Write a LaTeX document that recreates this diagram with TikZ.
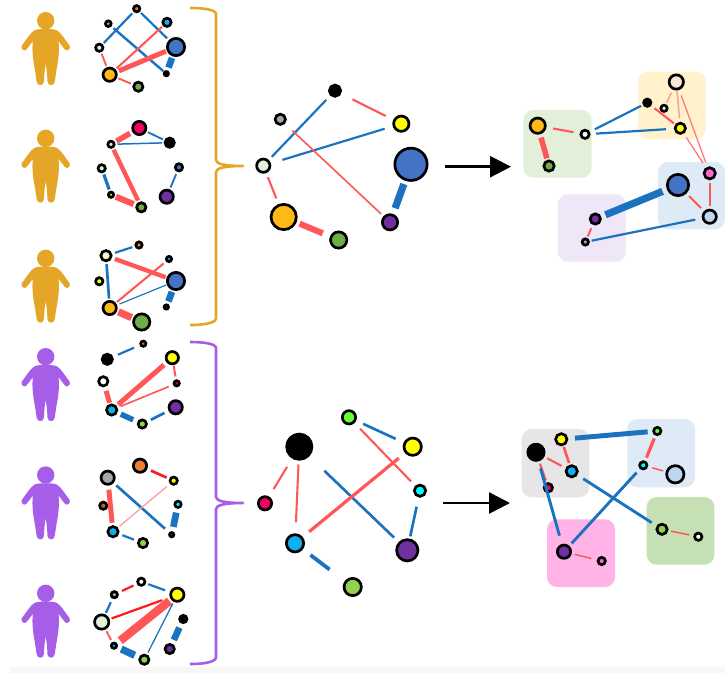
\documentclass[tikz,border=0pt]{standalone}
\usetikzlibrary{arrows.meta}
\definecolor{rd}{HTML}{FF5757}
\definecolor{prd}{HTML}{FF1A1A}
\definecolor{lrd}{HTML}{FF9C9C}
\definecolor{bl}{HTML}{1B72C0}
\definecolor{cBlue}{HTML}{4472C4}
\definecolor{cGold}{HTML}{FFB914}
\definecolor{cGreen}{HTML}{70AD47}
\definecolor{cLime}{HTML}{92D050}
\definecolor{cMint}{HTML}{E2F0D9}
\definecolor{cPurple}{HTML}{7030A0}
\definecolor{cSky}{HTML}{0FB0F0}
\definecolor{cRose}{HTML}{F0005F}
\definecolor{cYel}{HTML}{FFFF00}
\definecolor{cOrg}{HTML}{ED7D31}
\definecolor{cGray}{HTML}{A6A6A6}
\definecolor{cCyan}{HTML}{00FFFF}
\definecolor{cNeon}{HTML}{66FF33}
\definecolor{cPink}{HTML}{FF66CC}
\definecolor{cPale}{HTML}{BDD7EE}
\definecolor{cCream}{HTML}{FFF2CC}
\definecolor{cPeach}{HTML}{FBE5D6}
\definecolor{brO}{HTML}{E5A627}
\definecolor{brP}{HTML}{A65EE8}
\definecolor{bxBlue}{HTML}{DEEAF6}
\definecolor{bxLilac}{HTML}{EFE7F7}
\definecolor{bxGray}{HTML}{E7E6E6}
\definecolor{bxGreen}{HTML}{C5E0B4}
\definecolor{bxPink}{HTML}{FFB3E6}
\tikzset{
  nd/.style={circle,draw=black,line width=2.7pt,inner sep=0pt,outer sep=1.35pt},
  bgbox/.style={rounded corners=10pt,draw=none},
  brace/.style={line width=2.6pt,line join=round},
  flow/.style={line width=2.6pt,-{Triangle[length=21pt,width=21pt]}},
  pics/person/.style={code={
    \fill[#1] (0,0) circle (8.7);
    \foreach \s in {1,-1}{
      \fill[#1,xscale=\s] (-0.5,8.3) -- (0,8.3) .. controls (4,8.3) and (8,8.3) .. (11,9.5)
        .. controls (15,11.5) and (20,20) .. (24,25)
        .. controls (25,28) and (22,31) .. (19.5,29)
        .. controls (17,26.5) and (15,23) .. (12.8,20.5)
        .. controls (13.8,28) and (13,38) .. (11,48)
        .. controls (10,54) and (9.5,58) .. (9,61)
        .. controls (8.5,65.5) and (2.2,65.5) .. (1.8,61)
        .. controls (1.5,54) and (1,48) .. (0,43.7) -- (-0.5,43.7) -- cycle;
    }
  }}
}
\newcommand\Nd[5]{\node[nd,minimum size={2*#4-2.7},fill=#5] (#1) at (#2,#3) {};}
\newcommand\Ed[6]{\draw[#1,line width={(#2*1.15+0.35)*1pt},shorten <=#5pt,shorten >=#6pt] (#3) -- (#4);}
\begin{document}
\begin{tikzpicture}[x=1pt,y=-1pt]
\useasboundingbox (0,0) rectangle (725,673);
\fill[white] (0,0) rectangle (725,673);
\fill[black!3] (10,667) rectangle (725,673);
% people
\pic (p1) at (45.7,20.7) {person=brO};
\pic (p2) at (45.7,138.3) {person=brO};
\pic (p3) at (45.7,258.3) {person=brO};
\pic (p4) at (45.7,356.7) {person=brP};
\pic (p5) at (45.7,475) {person=brP};
\pic (p6) at (45.7,593.3) {person=brP};
% braces
\draw[brace,brO] (190,8) .. controls (200,8) and (216,9) .. (216,14) -- (216,160) .. controls (216,164) and (225,166) .. (243,166) .. controls (225,166) and (216,168) .. (216,172) -- (216,318) .. controls (216,324) and (200,325) .. (190,325);
\draw[brace,brP] (190,342) .. controls (200,342) and (216,343) .. (216,348) -- (216,497) .. controls (216,501) and (225,503) .. (243,503) .. controls (225,503) and (216,505) .. (216,509) -- (216,657) .. controls (216,663) and (200,664) .. (190,664);
% net 1
\begin{scope}[name prefix=s1-]
\Nd{a}{136.7}{8.7}{4.5}{cOrg}\Nd{b}{108.3}{23.7}{4.2}{cGray}\Nd{c}{167}{22.3}{5.5}{cSky}\Nd{d}{176}{47}{10}{cBlue}
\Nd{e}{99.3}{47.7}{5}{cMint}\Nd{f}{109.7}{74.7}{8}{cGold}\Nd{g}{166.3}{73.7}{3.5}{black}\Nd{h}{138.3}{86.7}{6}{cGreen}
\Ed{bl}{1.6}{a}{e}{2}{1.5}\Ed{bl}{1.6}{a}{d}{1.5}{2.5}\Ed{bl}{1.8}{b}{g}{2.8}{0.5}
\Ed{rd}{1.5}{c}{f}{1.3}{1.5}\Ed{rd}{4}{d}{f}{1}{2}\Ed{bl}{5.5}{d}{g}{1.6}{3}
\Ed{rd}{1.3}{e}{f}{1.5}{1.5}\Ed{rd}{1.3}{f}{h}{1.5}{2}
\end{scope}
% net 2
\begin{scope}[name prefix=s2-]
\Nd{a}{139.3}{128}{8}{cRose}\Nd{b}{169.7}{142.7}{6}{black}\Nd{c}{111}{144.3}{4.5}{cMint}\Nd{d}{179}{167.3}{5}{cBlue}
\Nd{e}{101.7}{168.3}{5}{cMint}\Nd{f}{166.7}{196.7}{8}{cPurple}\Nd{g}{111}{194.7}{4}{cGold}\Nd{h}{141.3}{207.3}{6}{cGreen}
\Ed{rd}{4.5}{a}{c}{2.7}{1.8}\Ed{bl}{1.3}{a}{b}{1.5}{1.5}\Ed{bl}{1}{c}{b}{2}{1.5}
\Ed{rd}{3.5}{c}{h}{1.5}{1.5}\Ed{bl}{2.5}{e}{g}{1.5}{1.5}\Ed{rd}{5}{g}{h}{1.3}{2.3}\Ed{bl}{1.3}{d}{f}{2.5}{2}
\end{scope}
% net 3
\begin{scope}[name prefix=s3-]
\Nd{a}{139}{245}{4.5}{cOrg}\Nd{b}{106}{255.7}{6.5}{cCream}\Nd{c}{169}{259}{4}{cSky}\Nd{d}{176}{281}{10}{cBlue}
\Nd{e}{99.3}{281.3}{5}{cYel}\Nd{f}{109.7}{308}{8}{cGold}\Nd{g}{166.3}{307}{3.5}{cPurple}\Nd{h}{141.7}{322}{9.5}{cGreen}
\Ed{bl}{1.6}{b}{a}{3}{2.5}\Ed{bl}{2}{b}{f}{2}{1.5}\Ed{rd}{3.5}{b}{d}{3}{1}
\Ed{rd}{1.5}{c}{f}{3}{1.5}\Ed{bl}{0.7}{d}{f}{1}{2.5}\Ed{bl}{5.5}{d}{g}{1.5}{2.5}\Ed{rd}{6}{f}{h}{1.5}{1.5}
\end{scope}
% net 4
\begin{scope}[name prefix=s4-]
\Nd{a}{143.3}{343.7}{4}{cOrg}\Nd{b}{107.3}{359.3}{6.5}{black}\Nd{c}{172.3}{357.7}{7.5}{cYel}\Nd{d}{176.7}{383.3}{4}{red}
\Nd{e}{103.3}{381.3}{6}{white}\Nd{f}{111.7}{410}{6.5}{cSky}\Nd{g}{175.7}{407.3}{8}{cPurple}\Nd{h}{142.3}{424}{5.5}{cLime}
\Ed{bl}{1.6}{b}{a}{5}{6}\Ed{rd}{1.4}{c}{d}{0.5}{3}\Ed{rd}{4}{c}{f}{3.5}{2}
\Ed{rd}{1.1}{d}{f}{4.5}{3}\Ed{rd}{4}{e}{f}{4}{1}\Ed{bl}{4.5}{f}{h}{3.5}{4.5}\Ed{bl}{2}{h}{g}{4}{4.5}
\end{scope}
% net 5
\begin{scope}[name prefix=s5-]
\Nd{a}{140}{465.7}{8}{cOrg}\Nd{b}{107.7}{477.7}{8}{cGray}\Nd{c}{173.7}{480.7}{5}{cYel}\Nd{d}{103.3}{505.7}{5}{cOrg!80!black}
\Nd{e}{178}{504.3}{4.5}{cCyan}\Nd{f}{113}{531.7}{6.5}{cSky}\Nd{g}{171.7}{534.7}{3.5}{cPurple}\Nd{h}{143}{543}{6}{cLime}
\Ed{prd}{2}{a}{c}{4}{2.7}\Ed{rd}{4}{b}{f}{4}{2.5}\Ed{bl}{2}{b}{g}{3.5}{5.5}
\Ed{lrd}{0.8}{c}{f}{4}{2}\Ed{bl}{5.5}{e}{g}{4}{4.5}\Ed{bl}{1.6}{f}{h}{3.5}{3.7}
\end{scope}
% net 6
\begin{scope}[name prefix=s6-]
\Nd{a}{141.3}{581.7}{5}{white}\Nd{b}{114.3}{594.7}{4.5}{cGray}\Nd{c}{177.3}{594.7}{8}{cYel}\Nd{d}{183.3}{619}{5}{black}
\Nd{e}{101.7}{622}{8.5}{cMint}\Nd{f}{114}{645.7}{4}{cSky}\Nd{g}{169.7}{649}{6}{cPurple}\Nd{h}{144.3}{659.7}{6}{cLime}
\Ed{prd}{1.6}{b}{a}{4}{3.7}\Ed{bl}{1.6}{a}{c}{2.3}{5}\Ed{bl}{1.6}{b}{e}{3.8}{1.5}
\Ed{prd}{1.6}{e}{c}{2}{8}\Ed{rd}{7}{c}{f}{2}{4}\Ed{rd}{1.3}{e}{f}{2}{2.5}
\Ed{bl}{6}{f}{h}{4}{4.5}\Ed{bl}{0.8}{c}{h}{2}{2}\Ed{bl}{5.5}{d}{g}{4.5}{4}
\end{scope}
% middle top
\begin{scope}[name prefix=m1-]
\Nd{a}{335}{90.7}{7}{black}\Nd{b}{280.3}{119.3}{6.5}{cGray}\Nd{c}{401.3}{123.7}{9}{cYel}\Nd{d}{411}{164.3}{17.5}{cBlue}
\Nd{e}{263.3}{165.7}{8}{cMint}\Nd{f}{283.7}{217}{14}{cGold}\Nd{g}{390}{222.3}{9}{cPurple}\Nd{h}{338.7}{240}{9.5}{cGreen}
\Ed{bl}{1.6}{a}{e}{5.7}{4.3}\Ed{rd}{1.5}{a}{c}{12.4}{8.4}\Ed{bl}{1.6}{e}{c}{12}{8.4}
\Ed{rd}{1.1}{b}{g}{10}{3.3}\Ed{rd}{1.5}{e}{f}{4.3}{6}\Ed{rd}{5}{f}{h}{3.2}{7.8}\Ed{bl}{6}{d}{g}{3.5}{6}
\end{scope}
% middle bottom
\begin{scope}[name prefix=m2-]
\Nd{a}{349}{417.3}{8}{cNeon}\Nd{b}{299.3}{446.7}{14}{black}\Nd{c}{412.7}{446.7}{10}{cYel}\Nd{d}{265}{503.3}{8}{cRose}
\Nd{e}{420}{490.7}{7}{cCyan}\Nd{f}{295}{543.3}{10}{cSky}\Nd{g}{407.3}{550.3}{12}{cPurple}\Nd{h}{352.7}{587}{10}{cLime}
\Ed{bl}{2}{a}{c}{7.6}{8.8}\Ed{rd}{1.5}{a}{e}{8}{6}\Ed{rd}{1.5}{b}{d}{9.6}{8.6}
\Ed{rd}{1.5}{b}{f}{3.8}{11}\Ed{bl}{2}{b}{g}{20.8}{6.4}\Ed{rd}{2.5}{c}{f}{8}{8.3}
\Ed{bl}{2}{e}{g}{9.4}{2.3}\Ed{bl}{3}{f}{h}{9.4}{19}
\end{scope}
% arrows
\coordinate (at1) at (445,166.7);\coordinate (ah1) at (511,166.7);
\coordinate (at2) at (443,503);\coordinate (ah2) at (510,503);
\draw[flow] (at1) -- (ah1);
\draw[flow] (at2) -- (ah2);
% right top
\fill[bgbox,fill=cMint] (523.3,110) rectangle (591.7,177.7);
\fill[bgbox,fill=cCream] (638.3,71.7) rectangle (705.7,139.3);
\fill[bgbox,fill=bxBlue] (658,162) rectangle (725,229.3);
\fill[bgbox,fill=bxLilac] (557.7,194.3) rectangle (625.7,261.7);
\begin{scope}[name prefix=r1-]
\Nd{a}{537.7}{125.7}{9}{cGold}\Nd{b}{549}{166}{6.5}{cGreen}\Nd{c}{585}{134.3}{5.5}{white}\Nd{d}{647.3}{102.7}{5}{black}
\Nd{e}{664}{108.3}{4.5}{white}\Nd{f}{676.3}{82}{8.5}{cPeach}\Nd{g}{680.3}{128.3}{6.5}{cYel}\Nd{h}{709.7}{173.3}{7}{cPink}
\Nd{i}{678}{185}{12}{cBlue}\Nd{j}{709.7}{216.7}{8}{cPale}\Nd{k}{595.3}{219}{6.5}{cPurple}\Nd{l}{585.3}{242}{4.5}{cGray}
\Ed{rd}{1.5}{a}{c}{6.6}{6.2}\Ed{rd}{4.5}{a}{b}{3.3}{1.5}\Ed{bl}{1.6}{c}{d}{5.5}{2}\Ed{bl}{1.6}{c}{g}{5.5}{8}
\Ed{rd}{1.5}{d}{g}{4}{1.5}\Ed{lrd}{1}{f}{e}{3.2}{1.5}\Ed{lrd}{1}{f}{g}{0.5}{3.5}\Ed{rd!80!white}{0.8}{f}{h}{5.8}{4.7}
\Ed{rd!80!white}{0.8}{g}{h}{4.5}{5.3}\Ed{rd}{1.6}{h}{j}{3}{2.7}\Ed{rd}{1.5}{i}{j}{3.6}{4.3}
\Ed{bl}{6}{i}{k}{4.7}{4.5}\Ed{bl}{1.6}{j}{l}{6.7}{1.9}\Ed{rd}{1.3}{k}{l}{3.5}{1.5}
\end{scope}
% right bottom
\fill[bgbox,fill=bxGray] (521.7,429) rectangle (589.3,497.3);
\fill[bgbox,fill=bxBlue] (627.3,419) rectangle (695,487.3);
\fill[bgbox,fill=bxGreen] (646.7,497) rectangle (714.3,564.7);
\fill[bgbox,fill=bxPink] (547,519.3) rectangle (615,587);
\begin{scope}[name prefix=r2-]
\Nd{a}{561.3}{439.3}{7}{cYel}\Nd{b}{536}{452.3}{9.5}{black}\Nd{c}{571.7}{471.3}{7}{cSky}\Nd{d}{548.3}{487.7}{5.5}{cRose}
\Nd{e}{657.3}{431}{5}{cNeon}\Nd{f}{643.3}{465.3}{5}{cCyan}\Nd{g}{675.3}{474.3}{10}{cPale}\Nd{h}{662}{529.3}{6.5}{cLime}
\Nd{i}{698.3}{536.7}{5}{white}\Nd{j}{564}{551.7}{8}{cPurple}\Nd{k}{601.7}{561}{5}{cPink}
\Ed{bl}{4}{a}{e}{6.7}{4.7}\Ed{rd}{2}{a}{c}{1}{1.7}\Ed{rd}{1.5}{b}{c}{3.1}{4.6}\Ed{rd}{1.6}{b}{d}{2.5}{2.2}
\Ed{bl}{2.2}{b}{j}{7.2}{8.7}\Ed{bl}{2.2}{c}{h}{6.7}{5.8}\Ed{bl}{2.2}{j}{f}{3.4}{5}\Ed{rd}{2.5}{e}{f}{3}{3.3}
\Ed{rd}{1}{f}{g}{4.3}{2.7}\Ed{rd}{1}{h}{i}{2.8}{4.3}\Ed{rd}{1}{j}{k}{3}{5.7}
\end{scope}
\end{tikzpicture}
\end{document}
